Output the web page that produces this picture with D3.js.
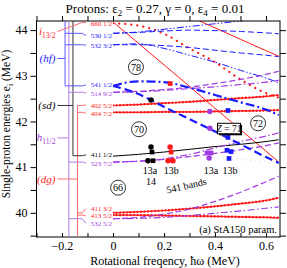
<!DOCTYPE html>
<html>
<head>
<meta charset="utf-8">
<script src="https://cdn.jsdelivr.net/npm/d3@7"></script>
<style>
  body { margin: 0; background: #fff; }
  text { font-family: "Liberation Serif", "DejaVu Serif", serif; }
</style>
</head>
<body>
<div id="viz"></div>
<script>
// rotational frequency grid (MeV)
var omega = [0, 0.1, 0.2, 0.3, 0.4, 0.5, 0.6, 0.65];
var omegaTop = [0.3, 0.4, 0.5, 0.6, 0.65];

// single-proton routhians (MeV)
var e660a = [44.18, 43.71, 43.24, 42.77, 42.29, 41.82, 41.35, 41.11];
var e660b = [44.15, 44.10, 43.92, 43.60, 43.30, 42.92, 42.62, 42.52];
var e6top = [44.30, 44.05, 43.80, 43.55, 43.43];
var e530a = [43.93, 43.95, 43.98, 44.00, 43.99, 43.97, 43.94, 43.92];
var e530b = [43.93, 43.96, 44.02, 44.08, 44.14, 44.20, 44.26, 44.29];
var e532a = [43.68, 43.68, 43.66, 43.62, 43.56, 43.50, 43.45, 43.42];
var e532b = [43.68, 43.70, 43.60, 43.45, 43.30, 43.12, 42.95, 42.85];
var e541a = [42.78, 42.88, 42.86, 42.74, 42.58, 42.42, 42.26, 42.14];
var e541b = [42.78, 42.60, 42.32, 42.05, 41.78, 41.50, 41.22, 41.09];
var e514a = [42.64, 42.66, 42.70, 42.75, 42.83, 42.92, 43.03, 43.10];
var e514b = [42.64, 42.65, 42.68, 42.72, 42.76, 42.81, 42.86, 42.90];
var e402 = [42.35, 42.37, 42.40, 42.43, 42.47, 42.51, 42.55, 42.58];
var e404 = [42.20, 42.20, 42.21, 42.21, 42.22, 42.23, 42.24, 42.25];
var e411a = [41.24, 41.28, 41.33, 41.39, 41.45, 41.50, 41.56, 41.60];
var e411b = [41.25, 41.25, 41.24, 41.22, 41.20, 41.17, 41.13, 41.10];
var e523a = [41.11, 41.13, 41.17, 41.23, 41.30, 41.38, 41.47, 41.53];
var e523b = [41.11, 41.13, 41.18, 41.28, 41.42, 41.56, 41.68, 41.75];
var e411c = [40.00, 40.02, 40.05, 40.09, 40.14, 40.20, 40.27, 40.33];
var e413 = [39.95, 39.95, 39.94, 39.93, 39.92, 39.91, 39.90, 39.89];
var e532c = [39.87, 39.90, 39.97, 40.08, 40.25, 40.45, 40.68, 40.80];
var e532d = [39.87, 39.88, 39.90, 39.94, 39.99, 40.04, 40.10, 40.13];

// Nilsson labels at omega = 0
var levelNames = ['660 1/2', '530 1/2', '532 3/2', '541 1/2', '514 9/2', '402 5/2', '404 7/2', '411 1/2', '523 7/2', '411 3/2', '413 5/2', '532 5/2'];
var levelE = [44.18, 43.93, 43.68, 42.78, 42.64, 42.35, 42.20, 41.25, 41.11, 40.00, 39.95, 39.87];
var labelE = [44.15, 43.88, 43.67, 42.80, 42.62, 42.36, 42.18, 41.27, 41.09, 40.09, 39.93, 39.77];
var levelShell = ['i', 'hf', 'hf', 'hf', 'h', 'dg', 'dg', 'sd', 'h', 'dg', 'dg', 'h'];

// band crossings
var crossW = [0.149, 0.149, 0.153, 0.137, 0.157, 0.224, 0.224, 0.228, 0.216, 0.235, 0.38, 0.38, 0.369, 0.385, 0.377, 0.451, 0.451, 0.447, 0.463, 0.455];
var crossE = [42.47, 41.44, 41.33, 41.14, 41.14, 42.83, 41.44, 41.33, 41.14, 41.14, 42.22, 41.85, 41.31, 41.31, 41.20, 42.24, 41.65, 41.37, 41.34, 41.19];
var crossShape = ['c', 'c', 's', 'c', 's', 's', 'c', 's', 'c', 'c', 'c', 'c', 's', 's', 'c', 's', 's', 's', 's', 's'];
var crossColor = ['k', 'k', 'k', 'k', 'k', 'r', 'r', 'r', 'r', 'r', 'p', 'p', 'p', 'p', 'p', 'b', 'b', 'b', 'b', 'b'];

var gaps = [78, 70, 72, 66];
var gapW = [0.09, 0.102, 0.569, 0.02];
var gapE = [43.19, 41.83, 41.96, 40.55];

var width = 287, height = 268;
var margin = {top: 21, right: 7, bottom: 31, left: 36.5};
var col = {r: '#ff1a1a', b: '#1a1aff', p: '#a03be0', k: '#000'};
var colLight = {r: '#ff6a6a', b: '#5a5aff', p: '#b47ae6', k: '#333'};

var x = d3.scaleLinear().domain([-0.3, 0.655]).range([margin.left, width - margin.right]);
var y = d3.scaleLinear().domain([39.47, 44.2]).range([height - margin.bottom, margin.top]);

var svg = d3.select('#viz').append('svg')
  .attr('width', width).attr('height', height);

svg.append('clipPath').attr('id', 'plot')
  .append('rect')
  .attr('x', x(0)).attr('y', margin.top)
  .attr('width', x(0.655) - x(0)).attr('height', y(39.47) - margin.top);

var line = d3.line().curve(d3.curveMonotoneX)
  .x(function(d) { return x(d[0]); })
  .y(function(d) { return y(d[1]); });

var DASH = '6,3', DASHDOT = '7,2.5,1.5,2.5', DOT = '0.1,3.4';
var series = [
  {w: omega, e: e660a, c: 'r', dash: null, lw: 1},
  {w: omega, e: e660b, c: 'r', dash: '0.1,6', lw: 2.2},
  {w: omegaTop, e: e6top, c: 'r', dash: null, lw: 1},
  {w: omega, e: e530a, c: 'b', dash: DASH, lw: 1},
  {w: omega, e: e530b, c: 'b', dash: '7,2,1.5,2,1.5,2', lw: 1},
  {w: omega, e: e532a, c: 'b', dash: DASH, lw: 1},
  {w: omega, e: e532b, c: 'b', dash: '7,2,1.5,2,1.5,2', lw: 1},
  {w: omega, e: e514a, c: 'p', dash: DASH, lw: 1.2},
  {w: omega, e: e514b, c: 'p', dash: DASHDOT, lw: 1.2},
  {w: omega, e: e402, c: 'r', dash: null, lw: 1.2},
  {w: omega, e: e402, c: 'r', dash: DOT, lw: 2.4},
  {w: omega, e: e404, c: 'r', dash: null, lw: 1.2},
  {w: omega, e: e404, c: 'r', dash: DOT, lw: 2.4},
  {w: omega, e: e411a, c: 'k', dash: null, lw: 1},
  {w: omega, e: e411b, c: 'k', dash: '0.1,4.5', lw: 2},
  {w: omega, e: e523a, c: 'p', dash: DASH, lw: 1.2},
  {w: omega, e: e523b, c: 'p', dash: DASHDOT, lw: 1.2},
  {w: omega, e: e411c, c: 'r', dash: null, lw: 1.2},
  {w: omega, e: e411c, c: 'r', dash: DOT, lw: 2.4},
  {w: omega, e: e413, c: 'r', dash: null, lw: 1.2},
  {w: omega, e: e413, c: 'r', dash: DOT, lw: 2.4},
  {w: omega, e: e532c, c: 'p', dash: DASH, lw: 1.2},
  {w: omega, e: e532d, c: 'p', dash: DASHDOT, lw: 1.2},
  {w: omega, e: e541a, c: 'b', dash: '9,3,2,3', lw: 2.2},
  {w: omega, e: e541b, c: 'b', dash: '8,4', lw: 2.2}
];

var plot = svg.append('g').attr('clip-path', 'url(#plot)');
plot.selectAll('path.band').data(series).enter().append('path')
  .attr('class', 'band')
  .attr('d', function(s) { return line(s.w.map(function(w, i) { return [w, s.e[i]]; })); })
  .attr('fill', 'none')
  .attr('stroke', function(s) { return col[s.c]; })
  .attr('stroke-width', function(s) { return s.lw; })
  .attr('stroke-linecap', function(s) { return s.lw > 2 && s.dash && s.dash.indexOf('0.1') == 0 ? 'round' : 'butt'; })
  .attr('stroke-dasharray', function(s) { return s.dash; });

// crossing markers
var cross = crossW.map(function(w, i) { return {w: w, e: crossE[i], s: crossShape[i], c: crossColor[i]}; });
plot.selectAll('path.cross').data(cross).enter().append('path')
  .attr('class', 'cross')
  .attr('transform', function(d) { return 'translate(' + x(d.w) + ',' + y(d.e) + ')'; })
  .attr('d', function(d) { return d3.symbol(d.s == 'c' ? d3.symbolCircle : d3.symbolSquare, d.s == 'c' ? 24 : 22)(); })
  .attr('fill', function(d) { return col[d.c]; });

// frame + axes
var g = svg.append('g');
g.append('rect').attr('x', margin.left).attr('y', margin.top)
  .attr('width', width - margin.right - margin.left).attr('height', height - margin.bottom - margin.top)
  .attr('fill', 'none').attr('stroke', '#000').attr('stroke-width', 1);

var xt = d3.range(-0.3, 0.66, 0.1);
var yt = d3.range(39.5, 44.21, 0.5);
g.append('g').attr('transform', 'translate(0,' + (height - margin.bottom) + ')')
  .call(d3.axisBottom(x).tickValues([-0.2, 0, 0.2, 0.4, 0.6]).tickSize(0).tickPadding(4)
    .tickFormat(function(d) { return d == 0 ? '0' : d3.format('.1f')(d).replace('-', '\u2212'); }))
  .call(function(a) { a.select('.domain').remove(); a.selectAll('text').attr('font-size', 12).attr('font-family', '"Liberation Serif", serif'); });
g.append('g').attr('transform', 'translate(0,' + (height - margin.bottom) + ')')
  .call(d3.axisTop(x).tickValues(xt).tickSize(4).tickFormat(''))
  .call(function(a) { a.select('.domain').remove(); });
g.append('g').attr('transform', 'translate(0,' + margin.top + ')')
  .call(d3.axisTop(x).tickValues(xt).tickSize(5).tickFormat(''))
  .call(function(a) { a.select('.domain').remove(); });
g.append('g').attr('transform', 'translate(' + margin.left + ',0)')
  .call(d3.axisLeft(y).tickValues(yt).tickSize(6).tickPadding(3)
    .tickFormat(function(d) { return d % 1 == 0 ? d : ''; }))
  .call(function(a) { a.select('.domain').remove(); a.selectAll('text').attr('font-size', 12).attr('font-family', '"Liberation Serif", serif'); });
g.append('g').attr('transform', 'translate(' + (width - margin.right) + ',0)')
  .call(d3.axisRight(y).tickValues(yt).tickSize(6).tickFormat(''))
  .call(function(a) { a.select('.domain').remove(); });

// titles
var title = svg.append('text').attr('x', 155).attr('y', 13).attr('text-anchor', 'middle').attr('font-size', 13);
title.append('tspan').text('Protons: \u03b5');
title.append('tspan').attr('font-size', 9).attr('dy', 3).text('2');
title.append('tspan').attr('dy', -3).text(' = 0.27, \u03b3 = 0, \u03b5');
title.append('tspan').attr('font-size', 9).attr('dy', 3).text('4');
title.append('tspan').attr('dy', -3).text(' = 0.01');

var yl = svg.append('text').attr('transform', 'translate(10,124) rotate(-90)')
  .attr('text-anchor', 'middle').attr('font-size', 11.5);
yl.append('tspan').text('Single-proton energies e');
yl.append('tspan').attr('font-size', 8).attr('dy', 2.5).text('i');
yl.append('tspan').attr('dy', -2.5).text(' (MeV)');

svg.append('text').attr('x', 165).attr('y', 265).attr('text-anchor', 'middle').attr('font-size', 12)
  .text('Rotational freqency, \u0127\u03c9  (MeV)');

svg.append('text').attr('x', 277).attr('y', 233).attr('text-anchor', 'end').attr('font-size', 10.5)
  .text('(a) StA150 param.');

// left-hand Nilsson bracket
var shellX = {hf: -0.188, h: -0.173, sd: -0.157, dg: -0.139};
var shellCol = {hf: 'b', h: 'p', sd: 'k', dg: 'r', i: 'r'};
var br = svg.append('g').attr('stroke-width', 1).attr('fill', 'none');
[['hf', 44.2, 42.78], ['h', 44.2, 39.47], ['sd', 44.2, 41.25], ['dg', 42.34, 39.47]].forEach(function(v) {
  br.append('line').attr('x1', x(shellX[v[0]])).attr('x2', x(shellX[v[0]]))
    .attr('y1', y(v[1])).attr('y2', y(v[2])).attr('stroke', colLight[shellCol[v[0]]]);
});
levelNames.forEach(function(n, i) {
  var sh = levelShell[i], c = shellCol[sh];
  if (sh != 'i') {
    br.append('polyline').attr('points', [[x(shellX[sh]), y(levelE[i])], [x(-0.12), y(levelE[i])], [x(-0.106), y(labelE[i])]].join(' '))
      .attr('stroke', colLight[c]);
  }
  svg.append('text').attr('x', x(-0.004)).attr('y', y(labelE[i]) + 2.5)
    .attr('text-anchor', 'end').attr('font-size', 7).attr('fill', col[c]).text(n);
});
// i13/2 connector
br.append('polyline').attr('points', [[x(-0.218), y(43.97)], [x(-0.12), y(44.17)], [x(-0.106), y(44.17)]].join(' '))
  .attr('stroke', colLight.r);

var shellLab = [['i', 'r', 43.97, 'i', '13/2'], ['hf', 'b', 43.38, '(hf)', ''], ['sd', 'k', 42.35, '(sd)', ''],
  ['h', 'p', 41.64, 'h', '11/2'], ['dg', 'r', 40.74, '(dg)', '']];
shellLab.forEach(function(s) {
  var tx = x(-0.218);
  if (s[0] != 'i') {
    br.append('line').attr('x1', tx).attr('x2', x(shellX[s[0]])).attr('y1', y(s[2])).attr('y2', y(s[2]))
      .attr('stroke', colLight[s[1]]);
  }
  var t = svg.append('text').attr('x', tx - 2).attr('y', y(s[2]) + 3.5).attr('text-anchor', 'end')
    .attr('font-size', 11).attr('font-style', 'italic').attr('fill', col[s[1]]);
  t.append('tspan').text(s[3]);
  if (s[4]) t.append('tspan').attr('font-size', 7.5).attr('font-style', 'normal').attr('dy', 3).text(s[4]);
});

// gap labels
gaps.forEach(function(n, i) {
  var gx = x(gapW[i]), gy = y(gapE[i]);
  svg.append('circle').attr('cx', gx).attr('cy', gy).attr('r', 7.5).attr('fill', 'none').attr('stroke', '#000').attr('stroke-width', 0.8);
  svg.append('text').attr('x', gx).attr('y', gy + 3.5).attr('text-anchor', 'middle').attr('font-size', 10).text(n);
});

// Z = 71 box
var zb = svg.append('g').attr('transform', 'translate(' + x(0.41) + ',' + y(41.96) + ')');
zb.append('rect').attr('x', 1.5).attr('y', 1.5).attr('width', 23).attr('height', 10.5).attr('fill', '#000');
zb.append('rect').attr('x', 0).attr('y', 0).attr('width', 23).attr('height', 10.5).attr('fill', '#fff').attr('stroke', '#000').attr('stroke-width', 1);
var zt = zb.append('text').attr('x', 11.5).attr('y', 8.5).attr('text-anchor', 'middle').attr('font-size', 9.5);
zt.append('tspan').attr('font-style', 'italic').text('Z');
zt.append('tspan').text(' = 71');

// crossing tags
var tagText = ['13a', '13b', '14', '13a', '13b'];
var tagW = [0.145, 0.228, 0.149, 0.384, 0.459];
var tagE = [40.86, 40.86, 40.6, 40.86, 40.86];
tagText.forEach(function(t, i) {
  svg.append('text').attr('x', x(tagW[i])).attr('y', y(tagE[i])).attr('text-anchor', 'middle').attr('font-size', 10).text(t);
});
svg.append('text').attr('transform', 'translate(' + x(0.213) + ',' + y(40.42) + ') rotate(-13)')
  .attr('font-size', 10).text('541 bands');
</script>
</body>
</html>
